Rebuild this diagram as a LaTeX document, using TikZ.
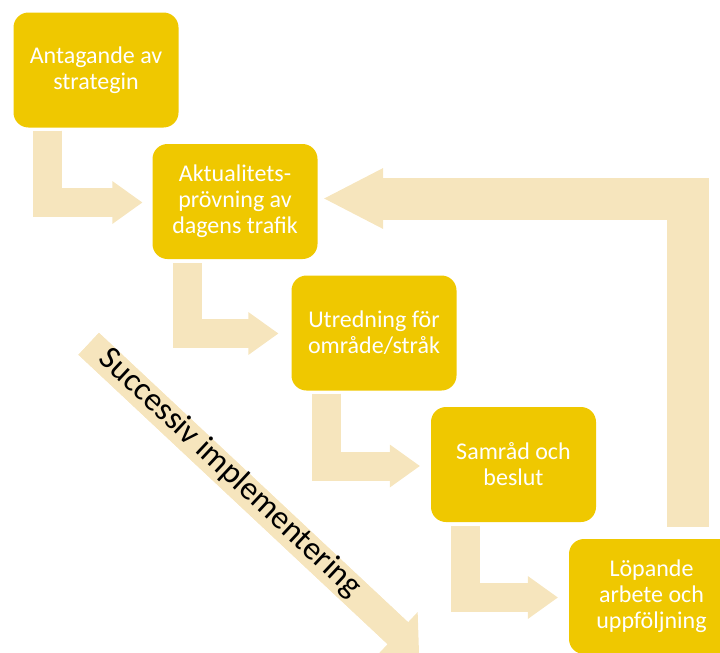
\documentclass[tikz,border=0pt]{standalone}
\usepackage{fontspec}
\setmainfont{Carlito}
\usetikzlibrary{arrows.meta}
\definecolor{boxgold}{RGB}{239,200,0}
\definecolor{arrowbeige}{RGB}{246,229,189}
\begin{document}
\begin{tikzpicture}[x=1pt,y=-1pt,
  box/.style={fill=boxgold, rounded corners=15pt, minimum width=165pt, minimum height=115pt,
    inner sep=0pt, text=white, align=center, font=\fontsize{24}{26}\selectfont},
  bent/.style={draw=arrowbeige, line width=29pt,
    -{Triangle[length=30pt,width=43pt,line width=0pt]}},
  bentshaft/.style={draw=arrowbeige, line width=29pt, shorten >=27pt},
  back/.style={draw=arrowbeige, line width=42pt,
    -{Triangle[length=59pt,width=61pt,line width=0pt]}},
  backshaft/.style={draw=arrowbeige, line width=42pt, shorten >=56pt},
  diag/.style={draw=arrowbeige, line width=30pt,
    -{Triangle[length=29pt,width=58pt,line width=0pt]}},
  diagshaft/.style={draw=arrowbeige, line width=30pt, shorten >=26pt},
  difftext/.style={font=\fontsize{33}{36}\selectfont, text=black, rotate=-43.1}
]
\useasboundingbox (0,0) rectangle (720,653);
\clip (0,0) rectangle (720,653);

% boxes
\node[box] (b1) at (96,70) {Antagande av\\strategin};
\node[box] (b2) at (235,201.5) {Aktualitets-\\prövning av\\dagens trafik};
\node[box] (b3) at (374,333) {Utredning för\\område/stråk};
\node[box] (b4) at (513.5,464.5) {Samråd och\\beslut};
\node[box] (b5) at (651.5,596.5) {Löpande\\arbete och\\uppföljning};

% bent arrows
\foreach \src/\dst/\sx/\sy/\tx/\ty in {b1/b2/-48.5/-3/-10/-1, b2/b3/-47.5/-4/-13/-0.5,
    b3/b4/-48/-3/-11/-1.5, b4/b5/-48/-4/-11/-1} {
  \draw[bent] ([xshift=\sx pt,yshift=\sy pt]\src.south) |- ([xshift=\tx pt,yshift=\ty pt]\dst.west);
  \draw[bentshaft] ([xshift=\sx pt,yshift=\sy pt]\src.south) |- ([xshift=\tx pt,yshift=\ty pt]\dst.west);
}

% return arrow
\draw[back] ([xshift=36pt,yshift=12pt]b5.north) |- ([xshift=6.5pt,yshift=3pt]b2.east);
\draw[backshaft] ([xshift=36pt,yshift=12pt]b5.north) |- ([xshift=6.5pt,yshift=3pt]b2.east);

% diagonal arrow
\coordinate (s0) at (88.7,343.8);
\coordinate (s1) at (419,653);
\draw[diag] (s0) -- (s1);
\draw[diagshaft] (s0) -- (s1);
\node[difftext] (lbl) at (230,473) {Successiv implementering};
\end{tikzpicture}
\end{document}
